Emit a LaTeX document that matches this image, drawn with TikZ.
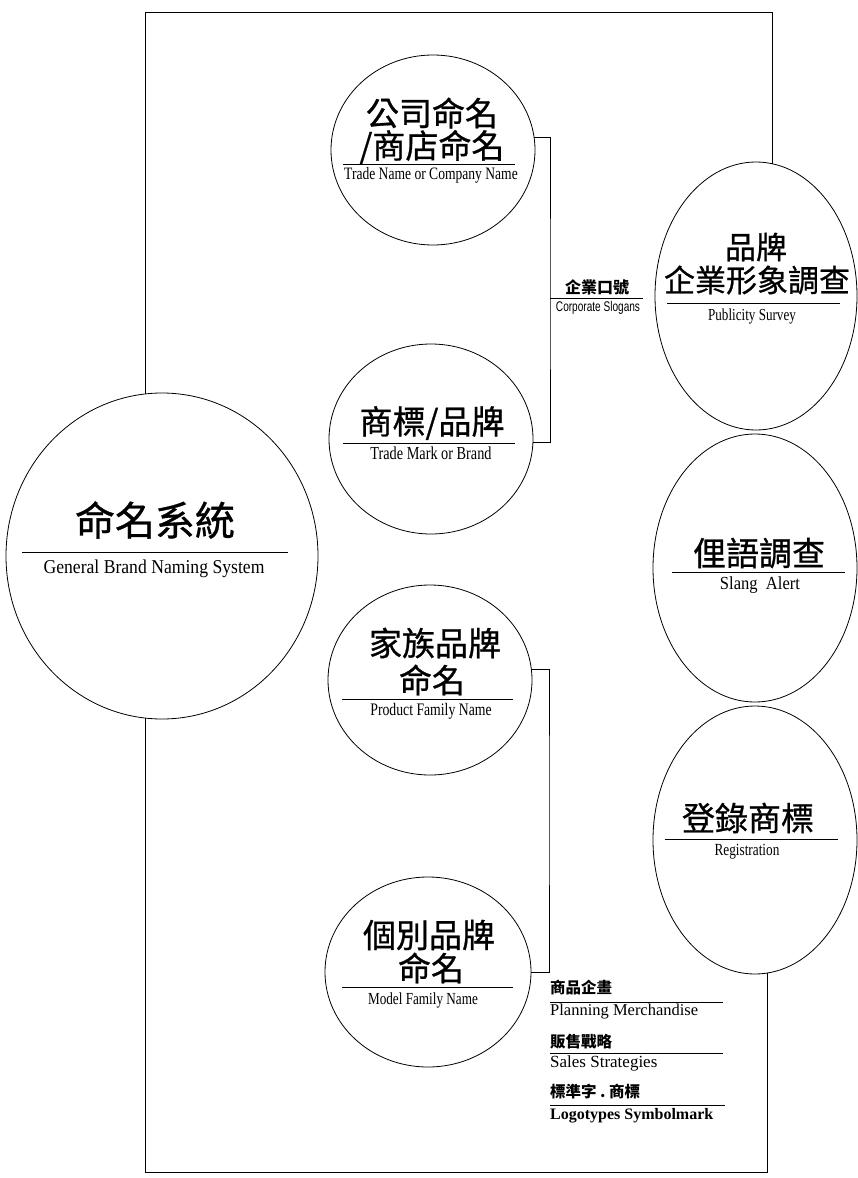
\documentclass[tikz,border=0pt]{standalone}
\usepackage{fontspec}
\usetikzlibrary{shapes.geometric}
\newfontfamily\cjk[FakeBold=0.8]{Noto Sans CJK TC}
\newfontfamily\cjkb{Noto Sans CJK TC}
\newfontfamily\eng[FakeStretch=0.78]{Liberation Serif}
\newfontfamily\engg[FakeStretch=0.9]{Liberation Serif}
\newfontfamily\engn{Liberation Serif}
\newfontfamily\sansn[FakeStretch=0.72]{Liberation Sans}
\begin{document}
\begin{tikzpicture}[x=1pt,y=-1pt,
  shp/.style={draw, ellipse, inner sep=0pt, outer sep=0pt, line width=0.8pt},
  cj/.style={inner sep=0pt, anchor=center, font=\cjk\fontsize{#1}{#1}\selectfont},
  en/.style={inner sep=0pt, anchor=mid, font=\eng\fontsize{#1}{#1}\selectfont},
  lcj/.style={inner sep=0pt, anchor=west, font=\cjkb\bfseries\fontsize{15.5}{15.5}\selectfont},
  len/.style={inner sep=0pt, anchor=mid west, font=\engn\fontsize{#1}{#1}\selectfont},
  rulex/.style={line width=0.8pt},
  conn/.style={line width=0.8pt}]
\fill[white] (0,0) rectangle (858,1178);
\useasboundingbox (0,0) rectangle (858,1178);

% shapes
\node[shp, minimum width=312pt, minimum height=326pt] (G) at (162,556) {};
\node[shp, minimum width=204pt, minimum height=190pt] (A) at (433,150) {};
\node[shp, minimum width=204pt, minimum height=190pt] (B) at (431,439) {};
\node[shp, minimum width=204pt, minimum height=190pt] (C) at (430,680) {};
\node[shp, minimum width=206pt, minimum height=190pt] (D) at (428,972) {};
\node[shp, minimum width=202pt, minimum height=268pt] (E1) at (756,296) {};
\node[shp, minimum width=204pt, minimum height=268pt] (E2) at (755,568) {};
\node[shp, minimum width=204pt, minimum height=268pt] (E3) at (755,840) {};

% texts: general
\node[cj=40] (gT) at (155,520) {命名系統};
\draw[rulex] (22,552) -- (288,552);
\node[inner sep=0pt, anchor=mid, font=\engg\fontsize{19.6}{19.6}\selectfont] (gE) at (154,571) {General\ Brand\ Naming\ System};

% A
\node[cj=33] (aT1) at (432,113) {公司命名};
\node[cj=33] (aT2) at (432,147) {/商店命名};
\draw[rulex] (343,164) -- (515,164);
\node[en=17.4] (aE) at (431,177) {Trade Name or Company Name};

% B
\node[cj=33] (bT) at (432,423) {商標/品牌};
\draw[rulex] (343,443) -- (515,443);
\node[en=18.3] (bE) at (431,457) {Trade Mark or Brand};

% C
\node[cj=33] (cT1) at (435,643) {家族品牌};
\node[cj=33] (cT2) at (432,680) {命名};
\draw[rulex] (342,699) -- (513,699);
\node[en=17.6] (cE) at (431,713) {Product Family Name};

% D
\node[cj=33] (dT1) at (429,935) {個別品牌};
\node[cj=33] (dT2) at (431,968) {命名};
\draw[rulex] (342,987) -- (513,987);
\node[en=16.9] (dE) at (423,1002) {Model Family Name};

% E1
\node[cj=31] (e1T1) at (756,247) {品牌};
\node[cj=31] (e1T2) at (757,280) {企業形象調查};
\draw[rulex] (667,303) -- (840,303);
\node[en=16.8] (e1E) at (752,318) {Publicity Survey};

% E2
\node[cj=33] (e2T) at (759,553) {俚語調查};
\draw[rulex] (672,572) -- (845,572);
\node[inner sep=0pt, anchor=mid, font=\engg\fontsize{18.4}{18.4}\selectfont] (e2E) at (760,587) {Slang\ \ Alert};

% E3
\node[cj=33] (e3T) at (748,818) {登錄商標};
\draw[rulex] (665,839) -- (838,839);
\node[en=17] (e3E) at (747,853) {Registration};

% connectors
\coordinate (tr) at (772,12);
\coordinate (br) at (767,1172);
\coordinate (k1) at (550,298);
\coordinate (k1e) at (643,298);
\coordinate (k2) at (549,800);
\draw[conn] (G.96) |- (tr) -- (tr |- E1.83);
\draw[conn] (G.264) |- (br) -- (br |- E3.275);
\draw[conn] (A.7) -| (k1) |- (B.-2);
\draw[conn] (k1) -- (k1e);
\draw[conn] (C.6) -| (k2) |- (D.east);

% slogan labels
\node[inner sep=0pt, anchor=center, font=\cjkb\bfseries\fontsize{16}{16}\selectfont] (sT) at (597,287) {企業口號};
\node[inner sep=0pt, anchor=mid, font=\sansn\fontsize{14}{14}\selectfont] (sE) at (598,309) {Corporate Slogans};

% list
\node[lcj] (l1) at (550,988) {商品企畫};
\draw[rulex] (550,1002) -- (723,1002);
\node[len=16.5] (l1e) at (550,1013) {Planning\ Merchandise};
\node[lcj] (l2) at (550,1042) {販售戰略};
\draw[rulex] (550,1053) -- (723,1053);
\node[len=17] (l2e) at (550,1065) {Sales Strategies};
\node[lcj] (l3) at (550,1092) {標準字\ .\ 商標};
\draw[rulex] (550,1105) -- (725,1105);
\node[len=16, font=\engn\bfseries\fontsize{16}{16}\selectfont] (l3e) at (550,1117) {Logotypes Symbolmark};
\end{tikzpicture}
\end{document}
